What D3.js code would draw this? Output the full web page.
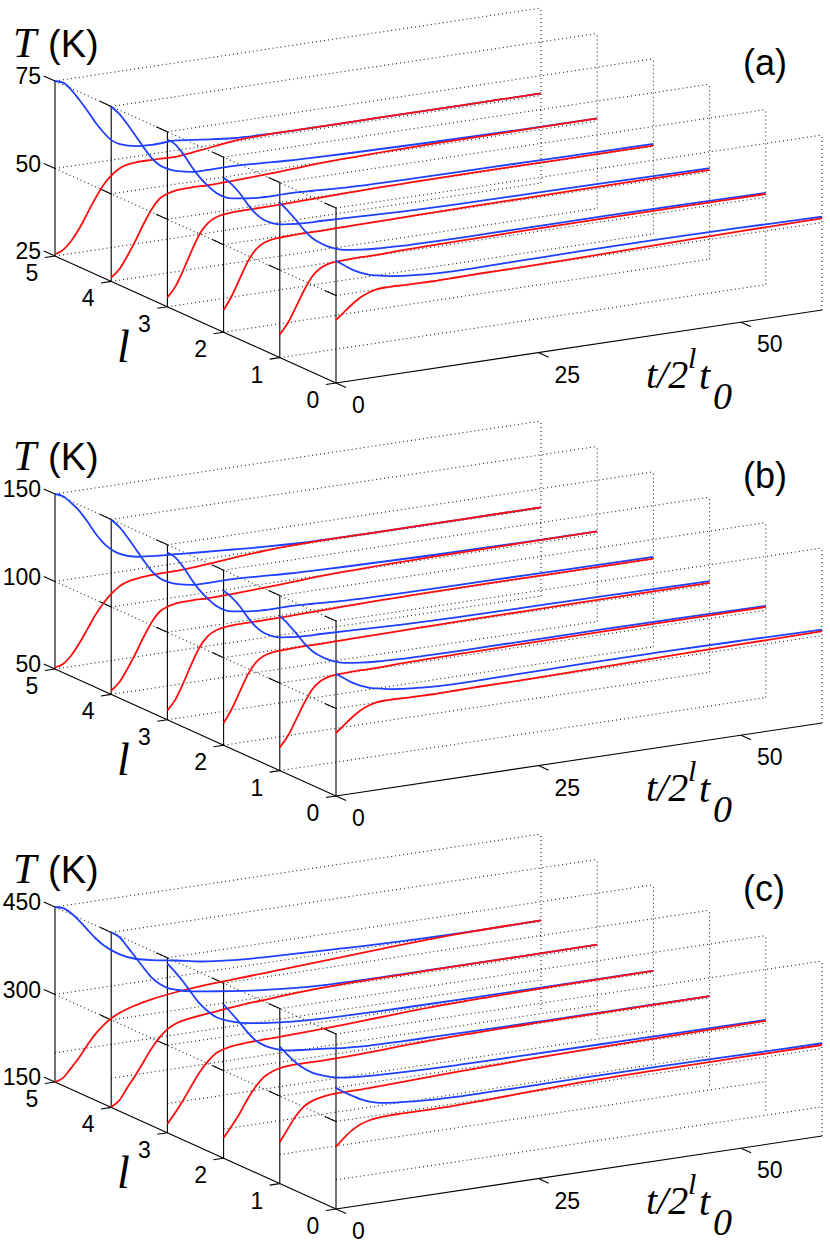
<!DOCTYPE html>
<html>
<head>
<meta charset="utf-8">
<script src="https://cdn.jsdelivr.net/npm/d3@7"></script>
<style>
  body { margin: 0; background: #fff; }
  svg { display: block; }
  .dot { stroke: #222; stroke-width: 1.1; stroke-dasharray: 1 3; fill: none; }
  .ax { stroke: #000; stroke-width: 1.1; fill: none; }
  .num { font-family: "Liberation Sans", Arial, sans-serif; font-size: 23px; fill: #000; }
  .it { font-family: "Liberation Serif", "Times New Roman", serif; font-style: italic; fill: #000; }
</style>
</head>
<body>
<div class="chart"></div>
<script>
var width = 830, height = 1246;

// time grid the curves are read on (t / 2^l t0)
var tGrid = [0,1,2,3,4,5,6,7,8,10,12,15,18,22,26,30,40,50,60];
var lValues = [0,1,2,3,4,5];
var tTicks = [0,25,50];
var tMax = 60;

// T axis ticks and grid levels for each panel
var tempTicksA = [25,50,75],   gridA = [25,50,75];
var tempTicksB = [50,100,150], gridB = [50,100,150];
var tempTicksC = [150,300,450], gridC = [200,300,450];
var panelNames = ["(a)","(b)","(c)"];

// curves, one row per l = 0..5
var blueA = [
  [59.9,58.3,56.7,55.5,54.6,54.0,53.5,53.1,52.8,52.4,52.1,51.9,51.9,52.0,52.1,52.2,52.2,52.0,51.7],
  [69.2,66.6,63.6,60.4,57.8,56.0,54.6,53.6,53.0,52.4,52.0,51.7,51.6,51.5,51.5,51.5,51.5,51.4,51.2],
  [69.1,66.9,64.0,60.4,57.4,55.3,54.1,53.4,53.1,52.7,52.6,52.4,52.1,51.8,51.6,51.5,51.4,51.2,51.0],
  [72.8,71.0,67.8,64.0,60.6,57.8,55.5,54.0,53.2,52.5,52.2,52.2,51.9,51.4,51.2,51.1,51.0,50.8,50.7],
  [74.9,72.5,69.2,65.6,61.9,58.5,56.1,54.7,53.8,52.8,52.7,52.7,52.4,51.9,51.6,51.4,51.0,50.8,50.7],
  [75.0,74.2,71.8,68.6,65.1,61.4,58.2,55.6,54.2,52.9,52.6,52.8,52.0,51.0,50.7,50.6,50.6,50.6,50.6]
];
var redA = [
  [43.0,44.9,46.8,48.4,49.4,50.0,50.2,50.2,50.1,50.0,49.9,50.0,50.1,50.1,50.2,50.3,50.7,51.0,51.2],
  [31.6,34.6,38.8,43.2,46.8,48.8,49.7,50.0,50.1,50.2,50.2,50.4,50.5,50.6,50.7,50.8,50.9,50.9,50.9],
  [31.3,35.0,39.6,44.2,47.3,48.8,49.4,49.6,49.7,49.8,49.8,49.9,50.0,50.1,50.2,50.3,50.4,50.5,50.5],
  [27.7,30.5,35.0,40.0,44.5,47.2,48.5,49.0,49.2,49.3,49.3,49.4,49.6,49.8,50.0,50.1,50.2,50.2,50.2],
  [26.1,28.1,31.6,35.6,40.0,43.9,46.6,47.7,48.2,48.4,48.3,48.5,48.8,49.3,49.8,50.1,50.5,50.6,50.7],
  [25.5,26.4,28.6,31.8,35.8,39.8,43.3,45.7,47.3,48.3,48.3,48.2,49.0,50.2,50.6,50.6,50.6,50.6,50.6]
];

var blueB = [
  [119.8,116.6,113.4,111.0,109.2,108.0,107.0,106.2,105.6,104.8,104.2,103.8,103.8,104.0,104.2,104.4,104.4,104.0,103.4],
  [138.4,133.2,127.2,120.8,115.6,112.0,109.2,107.2,106.0,104.8,104.0,103.4,103.2,103.0,103.0,103.0,103.0,102.8,102.4],
  [138.2,133.8,128.0,120.8,114.8,110.6,108.2,106.8,106.2,105.4,105.2,104.8,104.2,103.6,103.2,103.0,102.8,102.4,102.0],
  [145.6,142.0,135.6,128.0,121.2,115.6,111.0,108.0,106.4,105.0,104.4,104.4,103.8,102.8,102.4,102.2,102.0,101.6,101.4],
  [149.8,145.0,138.4,131.2,123.8,117.0,112.2,109.4,107.6,105.6,105.4,105.4,104.8,103.8,103.2,102.8,102.0,101.6,101.4],
  [150.0,148.0,143.5,138.3,131.5,124.0,117.8,113.3,110.2,107.2,106.2,105.2,104.2,103.0,101.8,101.0,100.6,100.6,100.7]
];
var redB = [
  [86.0,89.8,93.6,96.8,98.8,100.0,100.4,100.4,100.2,100.0,99.8,100.0,100.2,100.2,100.4,100.6,101.4,102.0,102.4],
  [63.2,69.2,77.6,86.4,93.6,97.6,99.4,100.0,100.2,100.4,100.4,100.8,101.0,101.2,101.4,101.6,101.8,101.8,101.8],
  [62.6,70.0,79.2,88.4,94.6,97.6,98.8,99.2,99.4,99.6,99.6,99.8,100.0,100.2,100.4,100.6,100.8,101.0,101.0],
  [55.4,61.0,70.0,80.0,89.0,94.4,97.0,98.0,98.4,98.6,98.6,98.8,99.2,99.6,100.0,100.2,100.4,100.4,100.4],
  [52.2,56.2,63.2,71.2,80.0,87.8,93.2,95.4,96.4,96.8,96.6,97.0,97.6,98.6,99.6,100.2,101.0,101.2,101.4],
  [51.0,52.2,56.3,62.6,70.0,77.5,83.5,88.3,91.8,94.6,95.5,95.6,96.5,98.2,99.6,100.3,100.6,100.6,100.7]
];

var blueC = [
  [358,348,340,332,326,322,319.5,317.8,316.5,314,312.3,311.2,311,311,311.2,311.3,311,310,309],
  [385,368,353,341,332,326,321,317.5,315,312.5,311,309.3,308.3,307.5,307,306.8,306.3,305.8,305.5],
  [413.5,396,378,359,343,333,326,321,318,315,312.5,308,305.5,304.5,304,303.5,303,302.8,302.7],
  [440,423,404,383,363,348,336,329,324,317,313,309,306.5,305,304,303.5,303,302.8,302.6],
  [450,440,421,401,381,362,349,340,335,328,324,318,313,308,305,304,303.5,303.5,303.8],
  [450,446,435,420,403,386,372,361,352,340,334,327,319,313,310,308,303,301,302]
];
var redC = [
  [257,270,281,288.5,293,295.3,296.3,296.7,296.7,296.5,296.3,296.8,298,300,302.2,304,305.6,305.9,306],
  [221,242,262,276,283.5,287,289.3,290,290.2,290.4,291.2,292.6,294,296,297.5,299,301.5,303,304],
  [185,203,223,246,265,279,286,290,291.5,292,292,292.5,294,296.5,298.5,300,301.5,302.3,302.7],
  [165,183,203,225,246,262,274,279,282,284,285,286,287.5,290,293,296,300,302,302.6],
  [150.5,160,180,199,220,241,258,270,277,283,286,290.5,294,298,300.5,302,303,303.5,303.8],
  [150,155,170,186,205,222,235,245,252,261,267,273,277,280,283,286,294,300,302]
];

var panels = [
  {name: panelNames[0], ticks: tempTicksA, grid: gridA, blue: blueA, red: redA},
  {name: panelNames[1], ticks: tempTicksB, grid: gridB, blue: blueB, red: redB},
  {name: panelNames[2], ticks: tempTicksC, grid: gridC, blue: blueC, red: redC}
];

var svg = d3.select(".chart")
  .append("svg")
    .attr("width", width)
    .attr("height", height);

// oblique projection: l runs up-left, t runs right, T runs up
var xL = d3.scaleLinear().domain([0,5]).range([336, 55]);
var yL = d3.scaleLinear().domain([0,5]).range([0, -127]);
var xT = d3.scaleLinear().domain([0,tMax]).range([0, 486]);
var yT = d3.scaleLinear().domain([0,tMax]).range([0, -73]);

var panelStep = 413;

panels.forEach(function(p, i) {
  var oy = 383 + panelStep * i;
  var Tlo = p.ticks[0], Tmid = p.ticks[1], Thi = p.ticks[2];
  var z = d3.scaleLinear().domain([Tlo, Thi]).range([oy, oy - 175]);
  var P = function(l, t, T) { return [xL(l) + xT(t), yL(l) + yT(t) + z(T)]; };

  var g = svg.append("g");
  var seg = function(a, b, cls) {
    g.append("line")
      .attr("class", cls)
      .attr("x1", a[0]).attr("y1", a[1])
      .attr("x2", b[0]).attr("y2", b[1]);
  };

  // dotted boxes, one per slice
  lValues.forEach(function(l) {
    p.grid.forEach(function(T) {
      if (l === 0 && T === Tlo) return;
      seg(P(l, 0, T), P(l, tMax, T), "dot");
    });
    seg(P(l, tMax, Tlo), P(l, tMax, Thi), "dot");
  });
  [Tmid, Thi].forEach(function(T) {
    seg(P(5, 0, T), P(0, 0, T), "dot");
  });

  // solid axes
  seg(P(0, 0, Tlo), P(5, 0, Tlo), "ax");
  seg(P(0, 0, Tlo), P(0, tMax, Tlo), "ax");
  lValues.forEach(function(l) {
    seg(P(l, 0, Tlo), P(l, 0, Thi), "ax");
    [Tmid, Thi].forEach(function(T) { seg(P(l, 0, T), P(l + 0.2, 0, T), "ax"); });
    seg(P(l, 0, Tlo), P(l, -1.25, Tlo), "ax");
  });
  seg(P(5, 0, Tlo), P(5.2, 0, Tlo), "ax");
  tTicks.forEach(function(t) { seg(P(0, t, Tlo), P(-0.18, t, Tlo), "ax"); });

  // tick labels
  p.ticks.forEach(function(T) {
    var q = P(5, 0, T);
    g.append("text").attr("class", "num")
      .attr("x", 41).attr("y", q[1] - 5).attr("dy", "0.35em")
      .attr("text-anchor", "end").text(T);
  });
  lValues.forEach(function(l) {
    var q = P(l, 0, Tlo);
    g.append("text").attr("class", "num")
      .attr("x", q[0] - 23).attr("y", q[1] + 17).attr("dy", "0.35em")
      .attr("text-anchor", "middle").text(l);
  });
  tTicks.forEach(function(t) {
    var q = P(0, t, Tlo);
    g.append("text").attr("class", "num")
      .attr("x", q[0] + 16).attr("y", q[1] + 22).attr("dy", "0.35em")
      .text(t);
  });

  // axis titles
  var oyTop = panelStep * i;
  g.append("text").attr("class", "it").attr("font-size", 42)
    .attr("x", 13).attr("y", oyTop + 57).text("T");
  g.append("text").attr("class", "num").style("font-size", "38px")
    .attr("x", 48).attr("y", oyTop + 57).text("(K)");
  g.append("text").attr("class", "it").attr("font-size", 46)
    .attr("x", 117).attr("y", oyTop + 362).text("l");
  g.append("text").attr("class", "it").attr("font-size", 40)
    .attr("x", 646).attr("y", oyTop + 388).text("t/2");
  g.append("text").attr("class", "it").attr("font-size", 30)
    .attr("x", 688).attr("y", oyTop + 368).text("l");
  g.append("text").attr("class", "it").attr("font-size", 40)
    .attr("x", 699).attr("y", oyTop + 389).text("t");
  g.append("text").attr("class", "it").attr("font-size", 38)
    .attr("x", 713).attr("y", oyTop + 409).text("0");
  g.append("text").attr("class", "num").style("font-size", "36px")
    .attr("x", 743).attr("y", oyTop + 74.5).text(p.name);

  // curves, back slice first
  var line = d3.line().curve(d3.curveMonotoneX);
  lValues.slice().reverse().forEach(function(l) {
    [["blue", "#1f3fff"], ["red", "#ff0d0d"]].forEach(function(s) {
      var pts = tGrid.map(function(t, k) { return P(l, t, p[s[0]][l][k]); });
      g.append("path")
        .attr("d", line(pts))
        .attr("fill", "none")
        .attr("stroke", s[1])
        .attr("stroke-width", 1.8);
    });
  });
});
</script>
</body>
</html>
